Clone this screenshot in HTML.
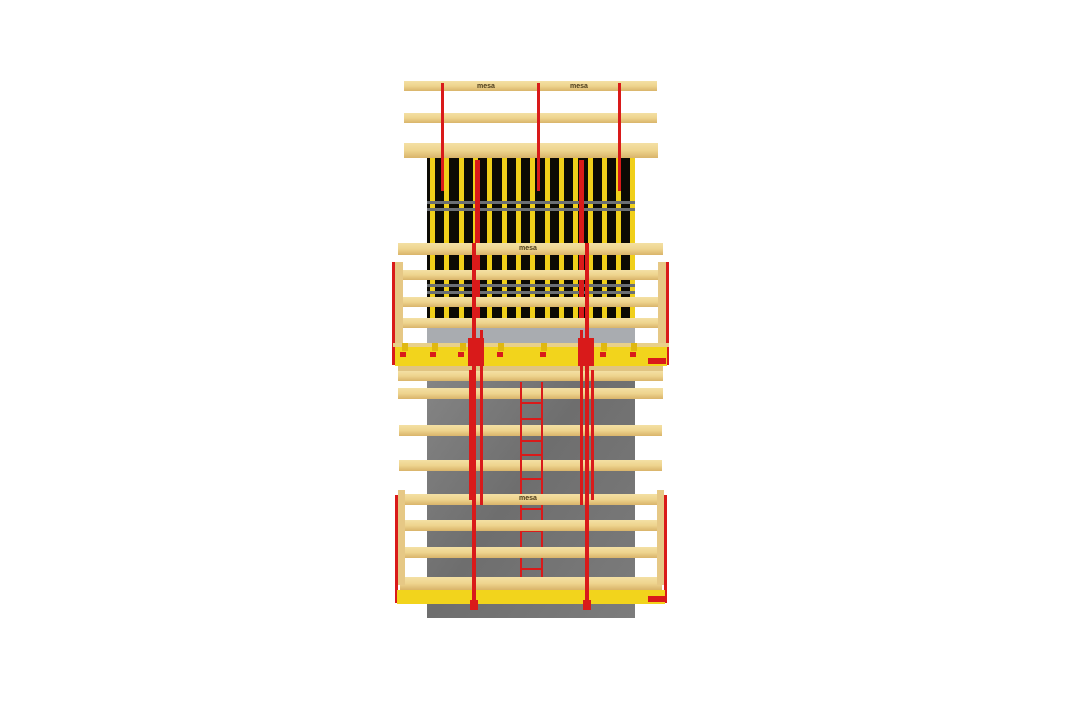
<!DOCTYPE html>
<html><head><meta charset="utf-8"><style>
html,body{margin:0;padding:0;background:#fff;width:1068px;height:713px;overflow:hidden}
svg{display:block}
text{font-family:"Liberation Sans",sans-serif}
</style></head><body>
<svg width="1068" height="713" viewBox="0 0 1068 713" xmlns="http://www.w3.org/2000/svg">
<defs>
<linearGradient id="wood" x1="0" y1="0" x2="0" y2="1">
<stop offset="0" stop-color="#f4e0a4"/><stop offset="0.5" stop-color="#eed48e"/><stop offset="1" stop-color="#d9b46a"/>
</linearGradient>
<linearGradient id="conc" x1="0" y1="0" x2="1" y2="1">
<stop offset="0" stop-color="#8a8a8a"/><stop offset="0.5" stop-color="#6e6e6e"/><stop offset="1" stop-color="#7c7c7c"/>
</linearGradient>
</defs>
<rect x="427" y="318" width="208" height="300" fill="url(#conc)"/>
<rect x="427" y="322" width="208" height="28" fill="#a9acb0"/>
<rect x="427" y="158" width="208" height="164" fill="#0c0a04"/>
<g fill="#f0cf1a">
<rect x="430" y="158" width="5" height="164"/><rect x="444" y="158" width="5" height="164"/><rect x="459" y="158" width="5" height="164"/><rect x="473" y="158" width="5" height="164"/><rect x="487" y="158" width="5" height="164"/><rect x="502" y="158" width="5" height="164"/><rect x="516" y="158" width="5" height="164"/><rect x="530" y="158" width="5" height="164"/><rect x="545" y="158" width="5" height="164"/><rect x="559" y="158" width="5" height="164"/><rect x="573" y="158" width="5" height="164"/><rect x="588" y="158" width="5" height="164"/><rect x="602" y="158" width="5" height="164"/><rect x="616" y="158" width="5" height="164"/><rect x="630" y="158" width="5" height="164"/>
</g>
<rect x="427" y="201" width="208" height="3" fill="#6b6f74"/>
<rect x="427" y="208" width="208" height="3" fill="#6b6f74"/>
<rect x="427" y="284" width="208" height="3" fill="#6b6f74"/>
<rect x="427" y="291" width="208" height="3" fill="#6b6f74"/>
<rect x="404" y="81" width="253" height="10" fill="url(#wood)"/>
<rect x="404" y="113" width="253" height="10" fill="url(#wood)"/>
<rect x="404" y="143" width="254" height="15" fill="url(#wood)"/>
<text x="477" y="88" font-size="7" font-weight="bold" fill="#4a3a1a">mesa</text>
<text x="570" y="88" font-size="7" font-weight="bold" fill="#4a3a1a">mesa</text>
<g fill="#d91a1a">
<rect x="441" y="83" width="3" height="108"/><rect x="537" y="83" width="3" height="108"/><rect x="618" y="83" width="3" height="108"/>
<rect x="475" y="160" width="5" height="160"/><rect x="579" y="160" width="5" height="160"/>
</g>
<rect x="398" y="243" width="265" height="12" fill="url(#wood)"/>
<text x="519" y="250" font-size="7" font-weight="bold" fill="#4a3a1a">mesa</text>
<rect x="398" y="270" width="265" height="10" fill="url(#wood)"/>
<rect x="398" y="297" width="265" height="10" fill="url(#wood)"/>
<rect x="398" y="318" width="265" height="10" fill="url(#wood)"/>
<rect x="395" y="262" width="8" height="85" fill="#e6c885"/>
<rect x="658" y="262" width="8" height="85" fill="#e6c885"/>
<rect x="392" y="262" width="3" height="103" fill="#d91a1a"/>
<rect x="666" y="262" width="3" height="103" fill="#d91a1a"/>
<rect x="393" y="343" width="276" height="4" fill="#e8d08a"/>
<rect x="395" y="347" width="272" height="19" fill="#f2d41c"/>
<g fill="#e0b810">
<rect x="402" y="343" width="6" height="8"/><rect x="432" y="343" width="6" height="8"/><rect x="460" y="343" width="6" height="8"/><rect x="498" y="343" width="6" height="8"/><rect x="541" y="343" width="6" height="8"/><rect x="601" y="343" width="6" height="8"/><rect x="631" y="343" width="6" height="8"/>
</g>
<g fill="#d91a1a">
<rect x="400" y="352" width="6" height="5"/><rect x="430" y="352" width="6" height="5"/><rect x="458" y="352" width="6" height="5"/><rect x="497" y="352" width="6" height="5"/><rect x="540" y="352" width="6" height="5"/><rect x="600" y="352" width="6" height="5"/><rect x="630" y="352" width="6" height="5"/><rect x="648" y="358" width="18" height="6"/>
</g>
<rect x="398" y="366" width="265" height="5" fill="#e0c482"/>
<rect x="398" y="371" width="265" height="10" fill="url(#wood)"/>
<rect x="398" y="388" width="265" height="11" fill="url(#wood)"/>
<rect x="399" y="425" width="263" height="11" fill="url(#wood)"/>
<rect x="399" y="460" width="263" height="11" fill="url(#wood)"/>
<g fill="#d91a1a">
<rect x="520" y="382" width="2" height="196"/><rect x="541" y="382" width="2" height="196"/>
<rect x="520" y="402" width="23" height="2"/><rect x="520" y="418" width="23" height="2"/><rect x="520" y="440" width="23" height="2"/><rect x="520" y="454" width="23" height="2"/><rect x="520" y="478" width="23" height="2"/><rect x="520" y="508" width="23" height="2"/><rect x="520" y="530" width="23" height="2"/><rect x="520" y="548" width="23" height="2"/><rect x="520" y="568" width="23" height="2"/>
</g>
<rect x="398" y="494" width="265" height="11" fill="url(#wood)"/>
<text x="519" y="500" font-size="7" font-weight="bold" fill="#4a3a1a">mesa</text>
<rect x="399" y="520" width="263" height="11" fill="url(#wood)"/>
<rect x="399" y="547" width="263" height="11" fill="url(#wood)"/>
<rect x="400" y="577" width="262" height="13" fill="url(#wood)"/>
<rect x="398" y="490" width="7" height="95" fill="#e6c885"/>
<rect x="657" y="490" width="7" height="95" fill="#e6c885"/>
<rect x="395" y="495" width="3" height="108" fill="#d91a1a"/>
<rect x="664" y="495" width="3" height="108" fill="#d91a1a"/>
<rect x="397" y="590" width="268" height="14" fill="#f2d41c"/>
<rect x="648" y="596" width="17" height="6" fill="#d91a1a"/>
<g fill="#d91a1a">
<rect x="472" y="243" width="4" height="365"/><rect x="480" y="330" width="3" height="175"/>
<rect x="585" y="243" width="4" height="365"/><rect x="580" y="330" width="3" height="175"/>
<rect x="468" y="338" width="16" height="28"/><rect x="578" y="338" width="16" height="28"/>
<rect x="469" y="370" width="3" height="130"/><rect x="591" y="370" width="3" height="130"/>
<rect x="470" y="600" width="8" height="10"/><rect x="583" y="600" width="8" height="10"/>
</g>
</svg>
</body></html>
